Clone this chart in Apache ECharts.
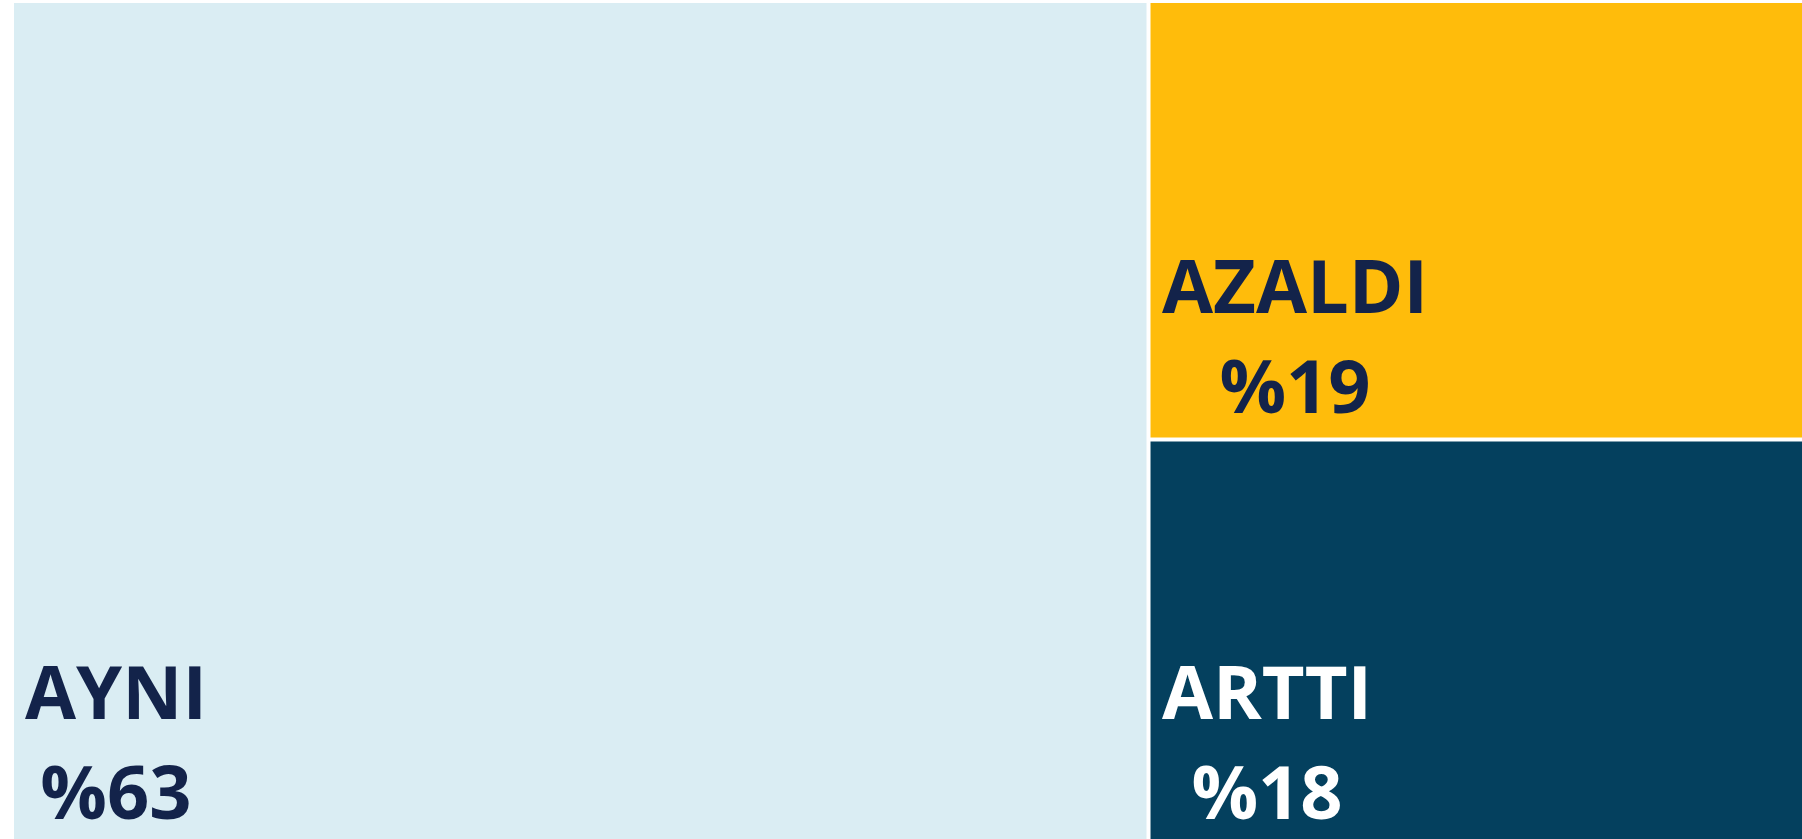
<!DOCTYPE html>
<html>
<head>
<meta charset="utf-8">
<script src="https://cdn.jsdelivr.net/npm/echarts@6/dist/echarts.min.js"></script>
<style>
html,body{margin:0;padding:0;background:#ffffff;}
#chart{width:1802px;height:839px;}
</style>
</head>
<body>
<div id="chart"></div>
<script>
const categories = ['AYNI', 'AZALDI', 'ARTTI'];
const values = [63, 19, 18];
const labels = ['%63', '%19', '%18'];

// styles
const colors = ['#daedf3', '#ffbc0b', '#04405e'];
const textColors = ['#13234a', '#13234a', '#ffffff'];
const labelNudgeY = [0, 9, 0];

const FONT_SIZE = 74;
const LINE_H = 100;
const PAD_LEFT = 10;
const PAD_BOTTOM = 5;
const FONT_FAMILY = 'Open Sans';

const measureCtx = document.createElement('canvas').getContext('2d');
measureCtx.font = 'bold ' + FONT_SIZE + 'px "' + FONT_FAMILY + '"';

function buildData(layouts) {
  return categories.map((c, i) => {
    const item = {
      name: c,
      value: values[i],
      pct: labels[i],
      itemStyle: { color: colors[i] },
      label: {
        offset: [0, labelNudgeY[i]],
        rich: {
          n: { fontFamily: FONT_FAMILY, fontWeight: 'bold', fontSize: FONT_SIZE, lineHeight: LINE_H, color: textColors[i], align: 'center' },
          p: { fontFamily: FONT_FAMILY, fontWeight: 'bold', fontSize: FONT_SIZE, lineHeight: LINE_H, color: textColors[i], align: 'center' }
        }
      }
    };
    if (layouts && layouts[c]) {
      const L = layouts[c];
      const tw = Math.ceil(Math.max(measureCtx.measureText(c).width, measureCtx.measureText(labels[i]).width)) + 2;
      const top = Math.max(L.height - 2 * LINE_H - PAD_BOTTOM, 0);
      const right = Math.max(L.width - PAD_LEFT - tw, 0);
      item.label.padding = [top, right, PAD_BOTTOM, PAD_LEFT];
    }
    return item;
  });
}

const chart = echarts.init(document.getElementById('chart'), null, { renderer: 'canvas' });
function makeOption(layouts) {
  return {
    animation: false,
    backgroundColor: '#ffffff',
    series: [{
      type: 'treemap',
      left: 14,
      top: 3,
      width: 1800,
      height: 850,
      roam: false,
      nodeClick: false,
      squareRatio: 1,
      breadcrumb: { show: false },
      sort: 'desc',
      levels: [{ itemStyle: { gapWidth: 4, borderWidth: 0 } }],
      itemStyle: { borderWidth: 0, gapWidth: 4 },
      label: {
        show: true,
        position: 'insideTopLeft',
        padding: [0, 0, 0, PAD_LEFT],
        formatter: p => '{n|' + p.name + '}\n{p|' + p.data.pct + '}'
      },
      data: buildData(layouts)
    }]
  };
}
chart.setOption(makeOption(null));
const layouts = {};
try {
  const tree = chart.getModel().getSeriesByIndex(0).getData().tree;
  tree.root.children.forEach(n => { layouts[n.name] = n.getLayout(); });
} catch (e) {}
chart.setOption(makeOption(layouts), { replaceMerge: ['series'] });
</script>
</body>
</html>
